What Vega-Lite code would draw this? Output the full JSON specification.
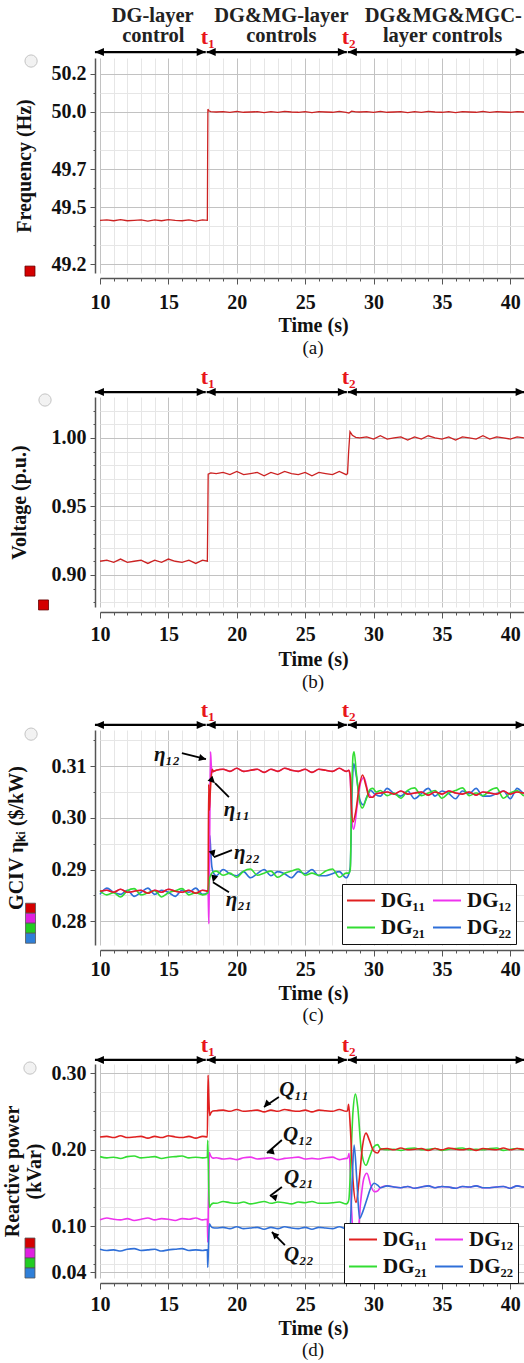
{
"$schema": "https://vega.github.io/schema/vega-lite/v6.json",
"background": "white",
"padding": {"left": 2, "right": 0, "top": 0, "bottom": 0},
"bounds": "flush",
"spacing": 0,
"config": {
  "view": {"stroke": null},
  "font": "Liberation Serif",
  "axis": {"labelFont": "Liberation Serif", "labelFontWeight": "bold", "labelFontSize": 20, "labelColor": "#111111", "titleFont": "Liberation Serif", "titleFontWeight": "bold", "titleFontSize": 20, "titleColor": "#111111", "domainColor": "#555555", "domainWidth": 1.5, "tickColor": "#555555", "gridWidth": 1, "labelOverlap": false, "labelFlush": false, "labelBound": false},
  "text": {"font": "Liberation Serif"}
},
"resolve": {"scale": {"color": "independent"}, "legend": {"color": "independent"}},
"datasets": {
  "arrows": [{"a": 9.63, "b": 17.73}, {"a": 17.8, "b": 28.05}, {"a": 28.12, "b": 41.05}],
  "hdrA": [{"row": "l1", "t": 13.85, "txt": "DG-layer"}, {"row": "l1", "t": 23.26, "txt": "DG&MG-layer"}, {"row": "l1", "t": 35.1, "txt": "DG&MG&MGC-"}, {"row": "l2", "t": 13.9, "txt": "control"}, {"row": "l2", "t": 23.26, "txt": "controls"}, {"row": "l2", "t": 35.05, "txt": "layer controls"}],
  "tags": [{"t": 17.88, "txt": "t₁"}, {"t": 28.18, "txt": "t₂"}],
  "freq": [
    {"t": 10, "v": 49.430}, {"t": 10.5, "v": 49.432}, {"t": 11, "v": 49.428}, {"t": 11.5, "v": 49.434}, {"t": 12, "v": 49.428}, {"t": 12.5, "v": 49.430}, {"t": 13, "v": 49.432}, {"t": 13.5, "v": 49.426}, {"t": 14, "v": 49.432}, {"t": 14.5, "v": 49.428}, {"t": 15, "v": 49.434}, {"t": 15.5, "v": 49.430}, {"t": 16, "v": 49.428}, {"t": 16.5, "v": 49.432}, {"t": 17, "v": 49.426}, {"t": 17.5, "v": 49.432}, {"t": 17.85, "v": 49.430},
    {"t": 17.87, "v": 49.75}, {"t": 17.89, "v": 50.015}, {"t": 17.95, "v": 50.006}, {"t": 18.1, "v": 50.002},
    {"t": 18.5, "v": 50.000}, {"t": 19, "v": 50.0015}, {"t": 19.5, "v": 49.9985}, {"t": 20, "v": 50.003}, {"t": 20.5, "v": 49.9985}, {"t": 21, "v": 50.000}, {"t": 21.5, "v": 50.0015}, {"t": 22, "v": 49.997}, {"t": 22.5, "v": 50.0015}, {"t": 23, "v": 49.9985}, {"t": 23.5, "v": 50.003}, {"t": 24, "v": 50.000}, {"t": 24.5, "v": 49.9985}, {"t": 25, "v": 50.0015}, {"t": 25.5, "v": 49.997}, {"t": 26, "v": 50.0015}, {"t": 26.5, "v": 50.000}, {"t": 27, "v": 49.9985}, {"t": 27.5, "v": 50.003}, {"t": 28, "v": 49.9985},
    {"t": 28.2, "v": 49.994}, {"t": 28.4, "v": 50.004}, {"t": 28.7, "v": 50.001},
    {"t": 29, "v": 50.000}, {"t": 29.5, "v": 50.0015}, {"t": 30, "v": 49.9985}, {"t": 30.5, "v": 50.003}, {"t": 31, "v": 49.9985}, {"t": 31.5, "v": 50.000}, {"t": 32, "v": 50.0015}, {"t": 32.5, "v": 49.997}, {"t": 33, "v": 50.0015}, {"t": 33.5, "v": 49.9985}, {"t": 34, "v": 50.003}, {"t": 34.5, "v": 50.000}, {"t": 35, "v": 49.9985}, {"t": 35.5, "v": 50.0015}, {"t": 36, "v": 49.997}, {"t": 36.5, "v": 50.0015}, {"t": 37, "v": 50.000}, {"t": 37.5, "v": 49.9985}, {"t": 38, "v": 50.003}, {"t": 38.5, "v": 49.9985}, {"t": 39, "v": 50.0015}, {"t": 39.5, "v": 50.000}, {"t": 40, "v": 49.9985}, {"t": 40.5, "v": 50.0015}, {"t": 41, "v": 50.000}, {"t": 41.15, "v": 50.000}
  ],
  "volt": [
    {"t": 10, "v": 0.9100}, {"t": 10.5, "v": 0.9108}, {"t": 11, "v": 0.9092}, {"t": 11.5, "v": 0.9116}, {"t": 12, "v": 0.9092}, {"t": 12.5, "v": 0.9100}, {"t": 13, "v": 0.9108}, {"t": 13.5, "v": 0.9084}, {"t": 14, "v": 0.9108}, {"t": 14.5, "v": 0.9092}, {"t": 15, "v": 0.9116}, {"t": 15.5, "v": 0.9100}, {"t": 16, "v": 0.9092}, {"t": 16.5, "v": 0.9108}, {"t": 17, "v": 0.9084}, {"t": 17.5, "v": 0.9108}, {"t": 17.85, "v": 0.9100},
    {"t": 17.88, "v": 0.9400}, {"t": 17.91, "v": 0.9735}, {"t": 18.1, "v": 0.9745},
    {"t": 18.5, "v": 0.9740}, {"t": 19, "v": 0.9748}, {"t": 19.5, "v": 0.9732}, {"t": 20, "v": 0.9756}, {"t": 20.5, "v": 0.9732}, {"t": 21, "v": 0.9740}, {"t": 21.5, "v": 0.9748}, {"t": 22, "v": 0.9724}, {"t": 22.5, "v": 0.9748}, {"t": 23, "v": 0.9732}, {"t": 23.5, "v": 0.9756}, {"t": 24, "v": 0.9740}, {"t": 24.5, "v": 0.9732}, {"t": 25, "v": 0.9748}, {"t": 25.5, "v": 0.9724}, {"t": 26, "v": 0.9748}, {"t": 26.5, "v": 0.9740}, {"t": 27, "v": 0.9732}, {"t": 27.5, "v": 0.9756}, {"t": 28, "v": 0.9732},
    {"t": 28.1, "v": 0.9740}, {"t": 28.18, "v": 0.9900}, {"t": 28.28, "v": 1.0045}, {"t": 28.45, "v": 1.0020}, {"t": 28.7, "v": 1.0005},
    {"t": 29, "v": 1.0000}, {"t": 29.5, "v": 1.0008}, {"t": 30, "v": 0.9992}, {"t": 30.5, "v": 1.0016}, {"t": 31, "v": 0.9992}, {"t": 31.5, "v": 1.0000}, {"t": 32, "v": 1.0008}, {"t": 32.5, "v": 0.9984}, {"t": 33, "v": 1.0008}, {"t": 33.5, "v": 0.9992}, {"t": 34, "v": 1.0016}, {"t": 34.5, "v": 1.0000}, {"t": 35, "v": 0.9992}, {"t": 35.5, "v": 1.0008}, {"t": 36, "v": 0.9984}, {"t": 36.5, "v": 1.0008}, {"t": 37, "v": 1.0000}, {"t": 37.5, "v": 0.9992}, {"t": 38, "v": 1.0016}, {"t": 38.5, "v": 0.9992}, {"t": 39, "v": 1.0008}, {"t": 39.5, "v": 1.0000}, {"t": 40, "v": 0.9992}, {"t": 40.5, "v": 1.0008}, {"t": 41, "v": 1.0000}, {"t": 41.15, "v": 1.0004}
  ],
  "gciv": [
    {"s": "DG22", "t": 10, "v": 0.2852}, {"s": "DG22", "t": 10.5, "v": 0.2864}, {"s": "DG22", "t": 11, "v": 0.2856}, {"s": "DG22", "t": 11.5, "v": 0.2852}, {"s": "DG22", "t": 12, "v": 0.2860}, {"s": "DG22", "t": 12.5, "v": 0.2848}, {"s": "DG22", "t": 13, "v": 0.2856}, {"s": "DG22", "t": 13.5, "v": 0.2864}, {"s": "DG22", "t": 14, "v": 0.2852}, {"s": "DG22", "t": 14.5, "v": 0.2860}, {"s": "DG22", "t": 15, "v": 0.2856}, {"s": "DG22", "t": 15.5, "v": 0.2848}, {"s": "DG22", "t": 16, "v": 0.2860}, {"s": "DG22", "t": 16.5, "v": 0.2856}, {"s": "DG22", "t": 17, "v": 0.2864}, {"s": "DG22", "t": 17.5, "v": 0.2852},
    {"s": "DG22", "t": 17.9, "v": 0.2856}, {"s": "DG22", "t": 17.97, "v": 0.2885}, {"s": "DG22", "t": 18.03, "v": 0.2966}, {"s": "DG22", "t": 18.1, "v": 0.2935}, {"s": "DG22", "t": 18.18, "v": 0.2905}, {"s": "DG22", "t": 18.3, "v": 0.2893},
    {"s": "DG22", "t": 18.5, "v": 0.2888}, {"s": "DG22", "t": 19, "v": 0.2900}, {"s": "DG22", "t": 19.5, "v": 0.2892}, {"s": "DG22", "t": 20, "v": 0.2888}, {"s": "DG22", "t": 20.5, "v": 0.2896}, {"s": "DG22", "t": 21, "v": 0.2884}, {"s": "DG22", "t": 21.5, "v": 0.2892}, {"s": "DG22", "t": 22, "v": 0.2900}, {"s": "DG22", "t": 22.5, "v": 0.2888}, {"s": "DG22", "t": 23, "v": 0.2896}, {"s": "DG22", "t": 23.5, "v": 0.2892}, {"s": "DG22", "t": 24, "v": 0.2884}, {"s": "DG22", "t": 24.5, "v": 0.2896}, {"s": "DG22", "t": 25, "v": 0.2892}, {"s": "DG22", "t": 25.5, "v": 0.2900}, {"s": "DG22", "t": 26, "v": 0.2888}, {"s": "DG22", "t": 26.5, "v": 0.2888}, {"s": "DG22", "t": 27, "v": 0.2892}, {"s": "DG22", "t": 27.5, "v": 0.2896}, {"s": "DG22", "t": 28, "v": 0.2884},
    {"s": "DG22", "t": 28.2, "v": 0.2892}, {"s": "DG22", "t": 28.3, "v": 0.2905}, {"s": "DG22", "t": 28.42, "v": 0.3040}, {"s": "DG22", "t": 28.55, "v": 0.3105}, {"s": "DG22", "t": 28.75, "v": 0.3080}, {"s": "DG22", "t": 29.0, "v": 0.3035}, {"s": "DG22", "t": 29.25, "v": 0.3025}, {"s": "DG22", "t": 29.5, "v": 0.3040}, {"s": "DG22", "t": 29.8, "v": 0.3053}, {"s": "DG22", "t": 30.1, "v": 0.3046},
    {"s": "DG22", "t": 30.5, "v": 0.3042}, {"s": "DG22", "t": 31, "v": 0.3057}, {"s": "DG22", "t": 31.5, "v": 0.3047}, {"s": "DG22", "t": 32, "v": 0.3042}, {"s": "DG22", "t": 32.5, "v": 0.3052}, {"s": "DG22", "t": 33, "v": 0.3037}, {"s": "DG22", "t": 33.5, "v": 0.3047}, {"s": "DG22", "t": 34, "v": 0.3057}, {"s": "DG22", "t": 34.5, "v": 0.3042}, {"s": "DG22", "t": 35, "v": 0.3052}, {"s": "DG22", "t": 35.5, "v": 0.3047}, {"s": "DG22", "t": 36, "v": 0.3037}, {"s": "DG22", "t": 36.5, "v": 0.3052}, {"s": "DG22", "t": 37, "v": 0.3047}, {"s": "DG22", "t": 37.5, "v": 0.3057}, {"s": "DG22", "t": 38, "v": 0.3042}, {"s": "DG22", "t": 38.5, "v": 0.3042}, {"s": "DG22", "t": 39, "v": 0.3047}, {"s": "DG22", "t": 39.5, "v": 0.3052}, {"s": "DG22", "t": 40, "v": 0.3037}, {"s": "DG22", "t": 40.5, "v": 0.3057}, {"s": "DG22", "t": 41, "v": 0.3047}, {"s": "DG22", "t": 41.15, "v": 0.3045},
    {"s": "DG12", "t": 10, "v": 0.2858}, {"s": "DG12", "t": 10.5, "v": 0.2860}, {"s": "DG12", "t": 11, "v": 0.2856}, {"s": "DG12", "t": 11.5, "v": 0.2862}, {"s": "DG12", "t": 12, "v": 0.2856}, {"s": "DG12", "t": 12.5, "v": 0.2858}, {"s": "DG12", "t": 13, "v": 0.2860}, {"s": "DG12", "t": 13.5, "v": 0.2854}, {"s": "DG12", "t": 14, "v": 0.2860}, {"s": "DG12", "t": 14.5, "v": 0.2856}, {"s": "DG12", "t": 15, "v": 0.2862}, {"s": "DG12", "t": 15.5, "v": 0.2858}, {"s": "DG12", "t": 16, "v": 0.2856}, {"s": "DG12", "t": 16.5, "v": 0.2860}, {"s": "DG12", "t": 17, "v": 0.2854}, {"s": "DG12", "t": 17.5, "v": 0.2860},
    {"s": "DG12", "t": 17.9, "v": 0.2858}, {"s": "DG12", "t": 17.96, "v": 0.2795}, {"s": "DG12", "t": 18.02, "v": 0.2960}, {"s": "DG12", "t": 18.08, "v": 0.3128}, {"s": "DG12", "t": 18.14, "v": 0.3100}, {"s": "DG12", "t": 18.22, "v": 0.3088}, {"s": "DG12", "t": 18.3, "v": 0.3090},
    {"s": "DG12", "t": 18.5, "v": 0.3092}, {"s": "DG12", "t": 19, "v": 0.3094}, {"s": "DG12", "t": 19.5, "v": 0.3090}, {"s": "DG12", "t": 20, "v": 0.3096}, {"s": "DG12", "t": 20.5, "v": 0.3090}, {"s": "DG12", "t": 21, "v": 0.3092}, {"s": "DG12", "t": 21.5, "v": 0.3094}, {"s": "DG12", "t": 22, "v": 0.3088}, {"s": "DG12", "t": 22.5, "v": 0.3094}, {"s": "DG12", "t": 23, "v": 0.3090}, {"s": "DG12", "t": 23.5, "v": 0.3096}, {"s": "DG12", "t": 24, "v": 0.3092}, {"s": "DG12", "t": 24.5, "v": 0.3090}, {"s": "DG12", "t": 25, "v": 0.3094}, {"s": "DG12", "t": 25.5, "v": 0.3088}, {"s": "DG12", "t": 26, "v": 0.3094}, {"s": "DG12", "t": 26.5, "v": 0.3092}, {"s": "DG12", "t": 27, "v": 0.3090}, {"s": "DG12", "t": 27.5, "v": 0.3096}, {"s": "DG12", "t": 28, "v": 0.3090},
    {"s": "DG12", "t": 28.2, "v": 0.3092}, {"s": "DG12", "t": 28.3, "v": 0.3075}, {"s": "DG12", "t": 28.42, "v": 0.2995}, {"s": "DG12", "t": 28.55, "v": 0.2978}, {"s": "DG12", "t": 28.8, "v": 0.3022}, {"s": "DG12", "t": 29.05, "v": 0.3068}, {"s": "DG12", "t": 29.3, "v": 0.3078}, {"s": "DG12", "t": 29.6, "v": 0.3050}, {"s": "DG12", "t": 29.9, "v": 0.3040}, {"s": "DG12", "t": 30.2, "v": 0.3047},
    {"s": "DG12", "t": 30.5, "v": 0.3048}, {"s": "DG12", "t": 31, "v": 0.3050}, {"s": "DG12", "t": 31.5, "v": 0.3046}, {"s": "DG12", "t": 32, "v": 0.3052}, {"s": "DG12", "t": 32.5, "v": 0.3046}, {"s": "DG12", "t": 33, "v": 0.3048}, {"s": "DG12", "t": 33.5, "v": 0.3050}, {"s": "DG12", "t": 34, "v": 0.3044}, {"s": "DG12", "t": 34.5, "v": 0.3050}, {"s": "DG12", "t": 35, "v": 0.3046}, {"s": "DG12", "t": 35.5, "v": 0.3052}, {"s": "DG12", "t": 36, "v": 0.3048}, {"s": "DG12", "t": 36.5, "v": 0.3046}, {"s": "DG12", "t": 37, "v": 0.3050}, {"s": "DG12", "t": 37.5, "v": 0.3044}, {"s": "DG12", "t": 38, "v": 0.3050}, {"s": "DG12", "t": 38.5, "v": 0.3048}, {"s": "DG12", "t": 39, "v": 0.3046}, {"s": "DG12", "t": 39.5, "v": 0.3052}, {"s": "DG12", "t": 40, "v": 0.3046}, {"s": "DG12", "t": 40.5, "v": 0.3050}, {"s": "DG12", "t": 41, "v": 0.3048}, {"s": "DG12", "t": 41.15, "v": 0.3048},
    {"s": "DG21", "t": 10, "v": 0.2859}, {"s": "DG21", "t": 10.5, "v": 0.2851}, {"s": "DG21", "t": 11, "v": 0.2855}, {"s": "DG21", "t": 11.5, "v": 0.2847}, {"s": "DG21", "t": 12, "v": 0.2859}, {"s": "DG21", "t": 12.5, "v": 0.2863}, {"s": "DG21", "t": 13, "v": 0.2851}, {"s": "DG21", "t": 13.5, "v": 0.2855}, {"s": "DG21", "t": 14, "v": 0.2859}, {"s": "DG21", "t": 14.5, "v": 0.2847}, {"s": "DG21", "t": 15, "v": 0.2855}, {"s": "DG21", "t": 15.5, "v": 0.2859}, {"s": "DG21", "t": 16, "v": 0.2863}, {"s": "DG21", "t": 16.5, "v": 0.2851}, {"s": "DG21", "t": 17, "v": 0.2855}, {"s": "DG21", "t": 17.5, "v": 0.2851},
    {"s": "DG21", "t": 17.9, "v": 0.2855}, {"s": "DG21", "t": 17.98, "v": 0.2878}, {"s": "DG21", "t": 18.1, "v": 0.2890}, {"s": "DG21", "t": 18.25, "v": 0.2895},
    {"s": "DG21", "t": 18.5, "v": 0.2897}, {"s": "DG21", "t": 19, "v": 0.2889}, {"s": "DG21", "t": 19.5, "v": 0.2893}, {"s": "DG21", "t": 20, "v": 0.2885}, {"s": "DG21", "t": 20.5, "v": 0.2897}, {"s": "DG21", "t": 21, "v": 0.2901}, {"s": "DG21", "t": 21.5, "v": 0.2889}, {"s": "DG21", "t": 22, "v": 0.2893}, {"s": "DG21", "t": 22.5, "v": 0.2897}, {"s": "DG21", "t": 23, "v": 0.2885}, {"s": "DG21", "t": 23.5, "v": 0.2893}, {"s": "DG21", "t": 24, "v": 0.2897}, {"s": "DG21", "t": 24.5, "v": 0.2901}, {"s": "DG21", "t": 25, "v": 0.2889}, {"s": "DG21", "t": 25.5, "v": 0.2893}, {"s": "DG21", "t": 26, "v": 0.2889}, {"s": "DG21", "t": 26.5, "v": 0.2897}, {"s": "DG21", "t": 27, "v": 0.2901}, {"s": "DG21", "t": 27.5, "v": 0.2885}, {"s": "DG21", "t": 28, "v": 0.2893},
    {"s": "DG21", "t": 28.2, "v": 0.2893}, {"s": "DG21", "t": 28.3, "v": 0.2900}, {"s": "DG21", "t": 28.4, "v": 0.3040}, {"s": "DG21", "t": 28.5, "v": 0.3120}, {"s": "DG21", "t": 28.58, "v": 0.3128}, {"s": "DG21", "t": 28.75, "v": 0.3085}, {"s": "DG21", "t": 29.0, "v": 0.3030}, {"s": "DG21", "t": 29.18, "v": 0.3019}, {"s": "DG21", "t": 29.45, "v": 0.3035}, {"s": "DG21", "t": 29.75, "v": 0.3055}, {"s": "DG21", "t": 29.95, "v": 0.3057}, {"s": "DG21", "t": 30.2, "v": 0.3050},
    {"s": "DG21", "t": 30.5, "v": 0.3053}, {"s": "DG21", "t": 31, "v": 0.3043}, {"s": "DG21", "t": 31.5, "v": 0.3048}, {"s": "DG21", "t": 32, "v": 0.3038}, {"s": "DG21", "t": 32.5, "v": 0.3053}, {"s": "DG21", "t": 33, "v": 0.3058}, {"s": "DG21", "t": 33.5, "v": 0.3043}, {"s": "DG21", "t": 34, "v": 0.3048}, {"s": "DG21", "t": 34.5, "v": 0.3053}, {"s": "DG21", "t": 35, "v": 0.3038}, {"s": "DG21", "t": 35.5, "v": 0.3048}, {"s": "DG21", "t": 36, "v": 0.3053}, {"s": "DG21", "t": 36.5, "v": 0.3058}, {"s": "DG21", "t": 37, "v": 0.3043}, {"s": "DG21", "t": 37.5, "v": 0.3048}, {"s": "DG21", "t": 38, "v": 0.3043}, {"s": "DG21", "t": 38.5, "v": 0.3053}, {"s": "DG21", "t": 39, "v": 0.3058}, {"s": "DG21", "t": 39.5, "v": 0.3038}, {"s": "DG21", "t": 40, "v": 0.3048}, {"s": "DG21", "t": 40.5, "v": 0.3053}, {"s": "DG21", "t": 41, "v": 0.3043}, {"s": "DG21", "t": 41.15, "v": 0.3048},
    {"s": "DG11", "t": 10, "v": 0.2858}, {"s": "DG11", "t": 10.5, "v": 0.2860}, {"s": "DG11", "t": 11, "v": 0.2856}, {"s": "DG11", "t": 11.5, "v": 0.2862}, {"s": "DG11", "t": 12, "v": 0.2856}, {"s": "DG11", "t": 12.5, "v": 0.2858}, {"s": "DG11", "t": 13, "v": 0.2860}, {"s": "DG11", "t": 13.5, "v": 0.2854}, {"s": "DG11", "t": 14, "v": 0.2860}, {"s": "DG11", "t": 14.5, "v": 0.2856}, {"s": "DG11", "t": 15, "v": 0.2862}, {"s": "DG11", "t": 15.5, "v": 0.2858}, {"s": "DG11", "t": 16, "v": 0.2856}, {"s": "DG11", "t": 16.5, "v": 0.2860}, {"s": "DG11", "t": 17, "v": 0.2854}, {"s": "DG11", "t": 17.5, "v": 0.2860},
    {"s": "DG11", "t": 17.9, "v": 0.2858}, {"s": "DG11", "t": 17.95, "v": 0.3065}, {"s": "DG11", "t": 18.0, "v": 0.3015}, {"s": "DG11", "t": 18.06, "v": 0.3048}, {"s": "DG11", "t": 18.12, "v": 0.3075}, {"s": "DG11", "t": 18.2, "v": 0.3094}, {"s": "DG11", "t": 18.3, "v": 0.3090},
    {"s": "DG11", "t": 18.5, "v": 0.3092}, {"s": "DG11", "t": 19, "v": 0.3094}, {"s": "DG11", "t": 19.5, "v": 0.3090}, {"s": "DG11", "t": 20, "v": 0.3096}, {"s": "DG11", "t": 20.5, "v": 0.3090}, {"s": "DG11", "t": 21, "v": 0.3092}, {"s": "DG11", "t": 21.5, "v": 0.3094}, {"s": "DG11", "t": 22, "v": 0.3088}, {"s": "DG11", "t": 22.5, "v": 0.3094}, {"s": "DG11", "t": 23, "v": 0.3090}, {"s": "DG11", "t": 23.5, "v": 0.3096}, {"s": "DG11", "t": 24, "v": 0.3092}, {"s": "DG11", "t": 24.5, "v": 0.3090}, {"s": "DG11", "t": 25, "v": 0.3094}, {"s": "DG11", "t": 25.5, "v": 0.3088}, {"s": "DG11", "t": 26, "v": 0.3094}, {"s": "DG11", "t": 26.5, "v": 0.3092}, {"s": "DG11", "t": 27, "v": 0.3090}, {"s": "DG11", "t": 27.5, "v": 0.3096}, {"s": "DG11", "t": 28, "v": 0.3090},
    {"s": "DG11", "t": 28.2, "v": 0.3092}, {"s": "DG11", "t": 28.3, "v": 0.3080}, {"s": "DG11", "t": 28.38, "v": 0.3025}, {"s": "DG11", "t": 28.5, "v": 0.2992}, {"s": "DG11", "t": 28.7, "v": 0.3012}, {"s": "DG11", "t": 28.95, "v": 0.3060}, {"s": "DG11", "t": 29.2, "v": 0.3083}, {"s": "DG11", "t": 29.45, "v": 0.3062}, {"s": "DG11", "t": 29.7, "v": 0.3040}, {"s": "DG11", "t": 29.95, "v": 0.3040}, {"s": "DG11", "t": 30.2, "v": 0.3047},
    {"s": "DG11", "t": 30.5, "v": 0.3048}, {"s": "DG11", "t": 31, "v": 0.3050}, {"s": "DG11", "t": 31.5, "v": 0.3046}, {"s": "DG11", "t": 32, "v": 0.3052}, {"s": "DG11", "t": 32.5, "v": 0.3046}, {"s": "DG11", "t": 33, "v": 0.3048}, {"s": "DG11", "t": 33.5, "v": 0.3050}, {"s": "DG11", "t": 34, "v": 0.3044}, {"s": "DG11", "t": 34.5, "v": 0.3050}, {"s": "DG11", "t": 35, "v": 0.3046}, {"s": "DG11", "t": 35.5, "v": 0.3052}, {"s": "DG11", "t": 36, "v": 0.3048}, {"s": "DG11", "t": 36.5, "v": 0.3046}, {"s": "DG11", "t": 37, "v": 0.3050}, {"s": "DG11", "t": 37.5, "v": 0.3044}, {"s": "DG11", "t": 38, "v": 0.3050}, {"s": "DG11", "t": 38.5, "v": 0.3048}, {"s": "DG11", "t": 39, "v": 0.3046}, {"s": "DG11", "t": 39.5, "v": 0.3052}, {"s": "DG11", "t": 40, "v": 0.3046}, {"s": "DG11", "t": 40.5, "v": 0.3050}, {"s": "DG11", "t": 41, "v": 0.3048}, {"s": "DG11", "t": 41.15, "v": 0.3048}
  ],
  "rq": [
    {"s": "DG12", "t": 10, "v": 0.1082}, {"s": "DG12", "t": 10.5, "v": 0.1106}, {"s": "DG12", "t": 11, "v": 0.1090}, {"s": "DG12", "t": 11.5, "v": 0.1082}, {"s": "DG12", "t": 12, "v": 0.1098}, {"s": "DG12", "t": 12.5, "v": 0.1074}, {"s": "DG12", "t": 13, "v": 0.1090}, {"s": "DG12", "t": 13.5, "v": 0.1106}, {"s": "DG12", "t": 14, "v": 0.1082}, {"s": "DG12", "t": 14.5, "v": 0.1098}, {"s": "DG12", "t": 15, "v": 0.1090}, {"s": "DG12", "t": 15.5, "v": 0.1074}, {"s": "DG12", "t": 16, "v": 0.1098}, {"s": "DG12", "t": 16.5, "v": 0.1090}, {"s": "DG12", "t": 17, "v": 0.1106}, {"s": "DG12", "t": 17.5, "v": 0.1082},
    {"s": "DG12", "t": 17.85, "v": 0.1090}, {"s": "DG12", "t": 17.88, "v": 0.0790}, {"s": "DG12", "t": 17.93, "v": 0.1400}, {"s": "DG12", "t": 17.99, "v": 0.1960}, {"s": "DG12", "t": 18.08, "v": 0.1920}, {"s": "DG12", "t": 18.25, "v": 0.1888},
    {"s": "DG12", "t": 18.5, "v": 0.1893}, {"s": "DG12", "t": 19, "v": 0.1877}, {"s": "DG12", "t": 19.5, "v": 0.1885}, {"s": "DG12", "t": 20, "v": 0.1869}, {"s": "DG12", "t": 20.5, "v": 0.1893}, {"s": "DG12", "t": 21, "v": 0.1901}, {"s": "DG12", "t": 21.5, "v": 0.1877}, {"s": "DG12", "t": 22, "v": 0.1885}, {"s": "DG12", "t": 22.5, "v": 0.1893}, {"s": "DG12", "t": 23, "v": 0.1869}, {"s": "DG12", "t": 23.5, "v": 0.1885}, {"s": "DG12", "t": 24, "v": 0.1893}, {"s": "DG12", "t": 24.5, "v": 0.1901}, {"s": "DG12", "t": 25, "v": 0.1877}, {"s": "DG12", "t": 25.5, "v": 0.1885}, {"s": "DG12", "t": 26, "v": 0.1877}, {"s": "DG12", "t": 26.5, "v": 0.1893}, {"s": "DG12", "t": 27, "v": 0.1901}, {"s": "DG12", "t": 27.5, "v": 0.1869}, {"s": "DG12", "t": 28, "v": 0.1885},
    {"s": "DG12", "t": 28.1, "v": 0.1885}, {"s": "DG12", "t": 28.22, "v": 0.1950}, {"s": "DG12", "t": 28.4, "v": 0.1200}, {"s": "DG12", "t": 28.6, "v": 0.0700}, {"s": "DG12", "t": 28.8, "v": 0.0750}, {"s": "DG12", "t": 29.05, "v": 0.1300}, {"s": "DG12", "t": 29.3, "v": 0.1630}, {"s": "DG12", "t": 29.52, "v": 0.1690}, {"s": "DG12", "t": 29.8, "v": 0.1530}, {"s": "DG12", "t": 30.05, "v": 0.1450}, {"s": "DG12", "t": 30.3, "v": 0.1460},
    {"s": "DG12", "t": 30.5, "v": 0.1502}, {"s": "DG12", "t": 31, "v": 0.1526}, {"s": "DG12", "t": 31.5, "v": 0.1510}, {"s": "DG12", "t": 32, "v": 0.1502}, {"s": "DG12", "t": 32.5, "v": 0.1518}, {"s": "DG12", "t": 33, "v": 0.1494}, {"s": "DG12", "t": 33.5, "v": 0.1510}, {"s": "DG12", "t": 34, "v": 0.1526}, {"s": "DG12", "t": 34.5, "v": 0.1502}, {"s": "DG12", "t": 35, "v": 0.1518}, {"s": "DG12", "t": 35.5, "v": 0.1510}, {"s": "DG12", "t": 36, "v": 0.1494}, {"s": "DG12", "t": 36.5, "v": 0.1518}, {"s": "DG12", "t": 37, "v": 0.1510}, {"s": "DG12", "t": 37.5, "v": 0.1526}, {"s": "DG12", "t": 38, "v": 0.1502}, {"s": "DG12", "t": 38.5, "v": 0.1502}, {"s": "DG12", "t": 39, "v": 0.1510}, {"s": "DG12", "t": 39.5, "v": 0.1518}, {"s": "DG12", "t": 40, "v": 0.1494}, {"s": "DG12", "t": 40.5, "v": 0.1526}, {"s": "DG12", "t": 41, "v": 0.1510}, {"s": "DG12", "t": 41.15, "v": 0.1510},
    {"s": "DG21", "t": 10, "v": 0.1908}, {"s": "DG21", "t": 10.5, "v": 0.1892}, {"s": "DG21", "t": 11, "v": 0.1900}, {"s": "DG21", "t": 11.5, "v": 0.1884}, {"s": "DG21", "t": 12, "v": 0.1908}, {"s": "DG21", "t": 12.5, "v": 0.1916}, {"s": "DG21", "t": 13, "v": 0.1892}, {"s": "DG21", "t": 13.5, "v": 0.1900}, {"s": "DG21", "t": 14, "v": 0.1908}, {"s": "DG21", "t": 14.5, "v": 0.1884}, {"s": "DG21", "t": 15, "v": 0.1900}, {"s": "DG21", "t": 15.5, "v": 0.1908}, {"s": "DG21", "t": 16, "v": 0.1916}, {"s": "DG21", "t": 16.5, "v": 0.1892}, {"s": "DG21", "t": 17, "v": 0.1900}, {"s": "DG21", "t": 17.5, "v": 0.1892},
    {"s": "DG21", "t": 17.85, "v": 0.1900}, {"s": "DG21", "t": 17.88, "v": 0.2120}, {"s": "DG21", "t": 17.94, "v": 0.1600}, {"s": "DG21", "t": 18.0, "v": 0.1245}, {"s": "DG21", "t": 18.1, "v": 0.1275}, {"s": "DG21", "t": 18.3, "v": 0.1300},
    {"s": "DG21", "t": 18.5, "v": 0.1298}, {"s": "DG21", "t": 19, "v": 0.1322}, {"s": "DG21", "t": 19.5, "v": 0.1306}, {"s": "DG21", "t": 20, "v": 0.1298}, {"s": "DG21", "t": 20.5, "v": 0.1314}, {"s": "DG21", "t": 21, "v": 0.1290}, {"s": "DG21", "t": 21.5, "v": 0.1306}, {"s": "DG21", "t": 22, "v": 0.1322}, {"s": "DG21", "t": 22.5, "v": 0.1298}, {"s": "DG21", "t": 23, "v": 0.1314}, {"s": "DG21", "t": 23.5, "v": 0.1306}, {"s": "DG21", "t": 24, "v": 0.1290}, {"s": "DG21", "t": 24.5, "v": 0.1314}, {"s": "DG21", "t": 25, "v": 0.1306}, {"s": "DG21", "t": 25.5, "v": 0.1322}, {"s": "DG21", "t": 26, "v": 0.1298}, {"s": "DG21", "t": 26.5, "v": 0.1298}, {"s": "DG21", "t": 27, "v": 0.1306}, {"s": "DG21", "t": 27.5, "v": 0.1314}, {"s": "DG21", "t": 28, "v": 0.1290},
    {"s": "DG21", "t": 28.1, "v": 0.1300}, {"s": "DG21", "t": 28.2, "v": 0.1350}, {"s": "DG21", "t": 28.35, "v": 0.1900}, {"s": "DG21", "t": 28.5, "v": 0.2500}, {"s": "DG21", "t": 28.68, "v": 0.2725}, {"s": "DG21", "t": 28.85, "v": 0.2550}, {"s": "DG21", "t": 29.1, "v": 0.2000}, {"s": "DG21", "t": 29.45, "v": 0.1795}, {"s": "DG21", "t": 29.7, "v": 0.1900}, {"s": "DG21", "t": 30.0, "v": 0.2030}, {"s": "DG21", "t": 30.3, "v": 0.2065},
    {"s": "DG21", "t": 30.5, "v": 0.2013}, {"s": "DG21", "t": 31, "v": 0.1997}, {"s": "DG21", "t": 31.5, "v": 0.2005}, {"s": "DG21", "t": 32, "v": 0.1989}, {"s": "DG21", "t": 32.5, "v": 0.2013}, {"s": "DG21", "t": 33, "v": 0.2021}, {"s": "DG21", "t": 33.5, "v": 0.1997}, {"s": "DG21", "t": 34, "v": 0.2005}, {"s": "DG21", "t": 34.5, "v": 0.2013}, {"s": "DG21", "t": 35, "v": 0.1989}, {"s": "DG21", "t": 35.5, "v": 0.2005}, {"s": "DG21", "t": 36, "v": 0.2013}, {"s": "DG21", "t": 36.5, "v": 0.2021}, {"s": "DG21", "t": 37, "v": 0.1997}, {"s": "DG21", "t": 37.5, "v": 0.2005}, {"s": "DG21", "t": 38, "v": 0.1997}, {"s": "DG21", "t": 38.5, "v": 0.2013}, {"s": "DG21", "t": 39, "v": 0.2021}, {"s": "DG21", "t": 39.5, "v": 0.1989}, {"s": "DG21", "t": 40, "v": 0.2005}, {"s": "DG21", "t": 40.5, "v": 0.2013}, {"s": "DG21", "t": 41, "v": 0.1997}, {"s": "DG21", "t": 41.15, "v": 0.2005},
    {"s": "DG11", "t": 10, "v": 0.2165}, {"s": "DG11", "t": 10.5, "v": 0.2173}, {"s": "DG11", "t": 11, "v": 0.2157}, {"s": "DG11", "t": 11.5, "v": 0.2181}, {"s": "DG11", "t": 12, "v": 0.2157}, {"s": "DG11", "t": 12.5, "v": 0.2165}, {"s": "DG11", "t": 13, "v": 0.2173}, {"s": "DG11", "t": 13.5, "v": 0.2149}, {"s": "DG11", "t": 14, "v": 0.2173}, {"s": "DG11", "t": 14.5, "v": 0.2157}, {"s": "DG11", "t": 15, "v": 0.2181}, {"s": "DG11", "t": 15.5, "v": 0.2165}, {"s": "DG11", "t": 16, "v": 0.2157}, {"s": "DG11", "t": 16.5, "v": 0.2173}, {"s": "DG11", "t": 17, "v": 0.2149}, {"s": "DG11", "t": 17.5, "v": 0.2173},
    {"s": "DG11", "t": 17.85, "v": 0.2165}, {"s": "DG11", "t": 17.9, "v": 0.2975}, {"s": "DG11", "t": 17.96, "v": 0.2650}, {"s": "DG11", "t": 18.02, "v": 0.2445}, {"s": "DG11", "t": 18.1, "v": 0.2475}, {"s": "DG11", "t": 18.25, "v": 0.2505},
    {"s": "DG11", "t": 18.5, "v": 0.2508}, {"s": "DG11", "t": 19, "v": 0.2516}, {"s": "DG11", "t": 19.5, "v": 0.2500}, {"s": "DG11", "t": 20, "v": 0.2524}, {"s": "DG11", "t": 20.5, "v": 0.2500}, {"s": "DG11", "t": 21, "v": 0.2508}, {"s": "DG11", "t": 21.5, "v": 0.2516}, {"s": "DG11", "t": 22, "v": 0.2492}, {"s": "DG11", "t": 22.5, "v": 0.2516}, {"s": "DG11", "t": 23, "v": 0.2500}, {"s": "DG11", "t": 23.5, "v": 0.2524}, {"s": "DG11", "t": 24, "v": 0.2508}, {"s": "DG11", "t": 24.5, "v": 0.2500}, {"s": "DG11", "t": 25, "v": 0.2516}, {"s": "DG11", "t": 25.5, "v": 0.2492}, {"s": "DG11", "t": 26, "v": 0.2516}, {"s": "DG11", "t": 26.5, "v": 0.2508}, {"s": "DG11", "t": 27, "v": 0.2500}, {"s": "DG11", "t": 27.5, "v": 0.2524}, {"s": "DG11", "t": 28, "v": 0.2500},
    {"s": "DG11", "t": 28.1, "v": 0.2505}, {"s": "DG11", "t": 28.18, "v": 0.2590}, {"s": "DG11", "t": 28.3, "v": 0.2300}, {"s": "DG11", "t": 28.5, "v": 0.1600}, {"s": "DG11", "t": 28.72, "v": 0.1310}, {"s": "DG11", "t": 28.95, "v": 0.1600}, {"s": "DG11", "t": 29.2, "v": 0.2050}, {"s": "DG11", "t": 29.45, "v": 0.2215}, {"s": "DG11", "t": 29.7, "v": 0.2120}, {"s": "DG11", "t": 30.0, "v": 0.1985}, {"s": "DG11", "t": 30.3, "v": 0.1955},
    {"s": "DG11", "t": 30.5, "v": 0.2005}, {"s": "DG11", "t": 31, "v": 0.2013}, {"s": "DG11", "t": 31.5, "v": 0.1997}, {"s": "DG11", "t": 32, "v": 0.2021}, {"s": "DG11", "t": 32.5, "v": 0.1997}, {"s": "DG11", "t": 33, "v": 0.2005}, {"s": "DG11", "t": 33.5, "v": 0.2013}, {"s": "DG11", "t": 34, "v": 0.1989}, {"s": "DG11", "t": 34.5, "v": 0.2013}, {"s": "DG11", "t": 35, "v": 0.1997}, {"s": "DG11", "t": 35.5, "v": 0.2021}, {"s": "DG11", "t": 36, "v": 0.2005}, {"s": "DG11", "t": 36.5, "v": 0.1997}, {"s": "DG11", "t": 37, "v": 0.2013}, {"s": "DG11", "t": 37.5, "v": 0.1989}, {"s": "DG11", "t": 38, "v": 0.2013}, {"s": "DG11", "t": 38.5, "v": 0.2005}, {"s": "DG11", "t": 39, "v": 0.1997}, {"s": "DG11", "t": 39.5, "v": 0.2021}, {"s": "DG11", "t": 40, "v": 0.1997}, {"s": "DG11", "t": 40.5, "v": 0.2013}, {"s": "DG11", "t": 41, "v": 0.2005}, {"s": "DG11", "t": 41.15, "v": 0.2005},
    {"s": "DG22", "t": 10, "v": 0.0698}, {"s": "DG22", "t": 10.5, "v": 0.0682}, {"s": "DG22", "t": 11, "v": 0.0690}, {"s": "DG22", "t": 11.5, "v": 0.0674}, {"s": "DG22", "t": 12, "v": 0.0698}, {"s": "DG22", "t": 12.5, "v": 0.0706}, {"s": "DG22", "t": 13, "v": 0.0682}, {"s": "DG22", "t": 13.5, "v": 0.0690}, {"s": "DG22", "t": 14, "v": 0.0698}, {"s": "DG22", "t": 14.5, "v": 0.0674}, {"s": "DG22", "t": 15, "v": 0.0690}, {"s": "DG22", "t": 15.5, "v": 0.0698}, {"s": "DG22", "t": 16, "v": 0.0706}, {"s": "DG22", "t": 16.5, "v": 0.0682}, {"s": "DG22", "t": 17, "v": 0.0690}, {"s": "DG22", "t": 17.5, "v": 0.0682},
    {"s": "DG22", "t": 17.85, "v": 0.0690}, {"s": "DG22", "t": 17.88, "v": 0.0460}, {"s": "DG22", "t": 17.94, "v": 0.0780}, {"s": "DG22", "t": 18.0, "v": 0.1030}, {"s": "DG22", "t": 18.1, "v": 0.1000}, {"s": "DG22", "t": 18.25, "v": 0.0978},
    {"s": "DG22", "t": 18.5, "v": 0.0975}, {"s": "DG22", "t": 19, "v": 0.0983}, {"s": "DG22", "t": 19.5, "v": 0.0967}, {"s": "DG22", "t": 20, "v": 0.0991}, {"s": "DG22", "t": 20.5, "v": 0.0967}, {"s": "DG22", "t": 21, "v": 0.0975}, {"s": "DG22", "t": 21.5, "v": 0.0983}, {"s": "DG22", "t": 22, "v": 0.0959}, {"s": "DG22", "t": 22.5, "v": 0.0983}, {"s": "DG22", "t": 23, "v": 0.0967}, {"s": "DG22", "t": 23.5, "v": 0.0991}, {"s": "DG22", "t": 24, "v": 0.0975}, {"s": "DG22", "t": 24.5, "v": 0.0967}, {"s": "DG22", "t": 25, "v": 0.0983}, {"s": "DG22", "t": 25.5, "v": 0.0959}, {"s": "DG22", "t": 26, "v": 0.0983}, {"s": "DG22", "t": 26.5, "v": 0.0975}, {"s": "DG22", "t": 27, "v": 0.0967}, {"s": "DG22", "t": 27.5, "v": 0.0991}, {"s": "DG22", "t": 28, "v": 0.0967},
    {"s": "DG22", "t": 28.1, "v": 0.0970}, {"s": "DG22", "t": 28.22, "v": 0.0750}, {"s": "DG22", "t": 28.4, "v": 0.1400}, {"s": "DG22", "t": 28.58, "v": 0.2060}, {"s": "DG22", "t": 28.78, "v": 0.1600}, {"s": "DG22", "t": 28.98, "v": 0.1100}, {"s": "DG22", "t": 29.2, "v": 0.1180}, {"s": "DG22", "t": 29.5, "v": 0.1340}, {"s": "DG22", "t": 29.8, "v": 0.1500}, {"s": "DG22", "t": 30.05, "v": 0.1560}, {"s": "DG22", "t": 30.3, "v": 0.1535},
    {"s": "DG22", "t": 30.5, "v": 0.1502}, {"s": "DG22", "t": 31, "v": 0.1526}, {"s": "DG22", "t": 31.5, "v": 0.1510}, {"s": "DG22", "t": 32, "v": 0.1502}, {"s": "DG22", "t": 32.5, "v": 0.1518}, {"s": "DG22", "t": 33, "v": 0.1494}, {"s": "DG22", "t": 33.5, "v": 0.1510}, {"s": "DG22", "t": 34, "v": 0.1526}, {"s": "DG22", "t": 34.5, "v": 0.1502}, {"s": "DG22", "t": 35, "v": 0.1518}, {"s": "DG22", "t": 35.5, "v": 0.1510}, {"s": "DG22", "t": 36, "v": 0.1494}, {"s": "DG22", "t": 36.5, "v": 0.1518}, {"s": "DG22", "t": 37, "v": 0.1510}, {"s": "DG22", "t": 37.5, "v": 0.1526}, {"s": "DG22", "t": 38, "v": 0.1502}, {"s": "DG22", "t": 38.5, "v": 0.1502}, {"s": "DG22", "t": 39, "v": 0.1510}, {"s": "DG22", "t": 39.5, "v": 0.1518}, {"s": "DG22", "t": 40, "v": 0.1494}, {"s": "DG22", "t": 40.5, "v": 0.1526}, {"s": "DG22", "t": 41, "v": 0.1510}, {"s": "DG22", "t": 41.15, "v": 0.1510}
  ],
  "etaLab": [{"t": 14.9, "v": 0.31213, "txt": "η₁₂"}, {"t": 20.01, "v": 0.30148, "txt": "η₁₁"}, {"t": 20.75, "v": 0.29316, "txt": "η₂₂"}, {"t": 20.16, "v": 0.28407, "txt": "η₂₁"}],
  "etaArr": [{"id": "a12", "t": 15.99, "v": 0.31252, "t2": 17.75, "v2": 0.31135}, {"id": "a11", "t": 19.43, "v": 0.3040, "t2": 18.41, "v2": 0.30671}, {"id": "a22", "t": 19.65, "v": 0.29374, "t2": 18.33, "v2": 0.29239}, {"id": "a21", "t": 19.43, "v": 0.28561, "t2": 18.26, "v2": 0.28755}],
  "qLab": [{"t": 24.2, "v": 0.2778, "txt": "Q₁₁"}, {"t": 24.47, "v": 0.219, "txt": "Q₁₂"}, {"t": 24.55, "v": 0.1628, "txt": "Q₂₁"}, {"t": 24.55, "v": 0.0622, "txt": "Q₂₂"}],
  "qArr": [{"id": "q11", "t": 23.08, "v": 0.2686, "t2": 21.99, "v2": 0.2556}, {"id": "q12", "t": 23.3, "v": 0.2125, "t2": 22.21, "v2": 0.1955}, {"id": "q21", "t": 23.3, "v": 0.1511, "t2": 22.43, "v2": 0.1393}, {"id": "q22", "t": 23.52, "v": 0.0753, "t2": 22.57, "v2": 0.0923}]
},
"vconcat": [
  {
    "width": 426, "height": 58,
    "layer": [
      {"data": {"name": "arrows"}, "mark": {"type": "rule", "color": "black", "strokeWidth": 2.2}, "encoding": {"x": {"field": "a", "type": "quantitative", "scale": {"domain": [10, 41.15], "nice": false, "zero": false}, "axis": null}, "x2": {"field": "b"}, "y": {"datum": 0.103, "type": "quantitative", "scale": {"domain": [0, 1], "nice": false, "zero": false}, "axis": null}}},
      {"data": {"name": "arrows"}, "mark": {"type": "point", "filled": true, "opacity": 1, "color": "black", "strokeWidth": 0, "size": 324, "shape": "M0,0L1,-0.45L1,0.45Z"}, "encoding": {"x": {"field": "a", "type": "quantitative", "axis": null}, "y": {"datum": 0.103, "type": "quantitative", "axis": null}}},
      {"data": {"name": "arrows"}, "mark": {"type": "point", "filled": true, "opacity": 1, "color": "black", "strokeWidth": 0, "size": 324, "shape": "M0,0L-1,-0.45L-1,0.45Z"}, "encoding": {"x": {"field": "b", "type": "quantitative", "axis": null}, "y": {"datum": 0.103, "type": "quantitative", "axis": null}}},
      {"data": {"name": "hdrA"}, "transform": [{"filter": "datum.row === 'l1'"}], "mark": {"type": "text", "font": "Liberation Serif", "fontSize": 20.5, "fontWeight": "bold", "color": "#222222"}, "encoding": {"x": {"field": "t", "type": "quantitative", "axis": null}, "y": {"datum": 0.73, "type": "quantitative", "axis": null}, "text": {"field": "txt"}}},
      {"data": {"name": "hdrA"}, "transform": [{"filter": "datum.row === 'l2'"}], "mark": {"type": "text", "font": "Liberation Serif", "fontSize": 20.5, "fontWeight": "bold", "color": "#222222"}, "encoding": {"x": {"field": "t", "type": "quantitative", "axis": null}, "y": {"datum": 0.385, "type": "quantitative", "axis": null}, "text": {"field": "txt"}}},
      {"data": {"name": "tags"}, "mark": {"type": "text", "font": "Liberation Serif", "fontSize": 22, "fontWeight": "bold", "color": "#e8161b"}, "encoding": {"x": {"field": "t", "type": "quantitative", "axis": null}, "y": {"datum": 0.362, "type": "quantitative", "axis": null}, "text": {"field": "txt"}}}
    ]
  },
  {
    "width": 426, "height": 215,
    "title": {"text": "(a)", "orient": "bottom", "font": "Liberation Serif", "fontSize": 19, "fontWeight": "normal", "color": "#111111", "offset": 4},
    "encoding": {
      "x": {"field": "t", "type": "quantitative", "scale": {"domain": [10, 41.15], "nice": false, "zero": false},
        "axis": {"values": [10,11,12,13,14,15,16,17,18,19,20,21,22,23,24,25,26,27,28,29,30,31,32,33,34,35,36,37,38,39,40,41], "labelExpr": "datum.value % 5 === 0 ? datum.label : ''", "labelOverlap": false, "grid": true, "gridColor": {"condition": {"test": "datum.value % 5 === 0", "value": "#c2c2c2"}, "value": "#e6e6e6"}, "tickSize": {"condition": {"test": "datum.value % 5 === 0", "value": 6}, "value": 3}, "offset": 5, "labelPadding": 8, "title": "Time (s)", "titlePadding": 3}},
      "y": {"field": "v", "type": "quantitative", "scale": {"domain": [49.153, 50.284], "nice": false, "zero": false},
        "axis": {"values": [49.2,49.3,49.4,49.5,49.6,49.7,49.8,49.9,50,50.1,50.2], "labelExpr": "indexof([49.2,49.5,49.7,50,50.2], datum.value) >= 0 ? format(datum.value, '.1f') : ''", "labelOverlap": false, "grid": true, "gridColor": {"condition": {"test": "indexof([49.2,49.5,49.7,50,50.2], datum.value) >= 0", "value": "#c2c2c2"}, "value": "#e6e6e6"}, "tickSize": {"condition": {"test": "indexof([49.2,49.5,49.7,50,50.2], datum.value) >= 0", "value": 5}, "value": 2}, "offset": 5, "labelPadding": 4, "title": "Frequency (Hz)", "titlePadding": 17}}
    },
    "layer": [
      {"data": {"name": "freq"}, "mark": {"type": "line", "color": "#cc2222", "strokeWidth": 1.3}},
      {"data": {"values": [{"t": 4.88, "v": 49.163}]}, "mark": {"type": "point", "shape": "square", "filled": true, "opacity": 1, "color": "#d40000", "stroke": "#660000", "strokeWidth": 0.8, "size": 100}},
      {"data": {"values": [{"t": 4.96, "v": 50.268}]}, "mark": {"type": "point", "shape": "circle", "filled": true, "opacity": 1, "fill": "#f2f2f2", "stroke": "#c4c4c4", "strokeWidth": 1, "size": 150}}
    ]
  },
  {
    "width": 426, "height": 124,
    "layer": [
      {"data": {"name": "arrows"}, "mark": {"type": "rule", "color": "black", "strokeWidth": 2.2}, "encoding": {"x": {"field": "a", "type": "quantitative", "scale": {"domain": [10, 41.15], "nice": false, "zero": false}, "axis": null}, "x2": {"field": "b"}, "y": {"datum": 0.04, "type": "quantitative", "scale": {"domain": [0, 1], "nice": false, "zero": false}, "axis": null}}},
      {"data": {"name": "arrows"}, "mark": {"type": "point", "filled": true, "opacity": 1, "color": "black", "strokeWidth": 0, "size": 324, "shape": "M0,0L1,-0.45L1,0.45Z"}, "encoding": {"x": {"field": "a", "type": "quantitative", "axis": null}, "y": {"datum": 0.04, "type": "quantitative", "axis": null}}},
      {"data": {"name": "arrows"}, "mark": {"type": "point", "filled": true, "opacity": 1, "color": "black", "strokeWidth": 0, "size": 324, "shape": "M0,0L-1,-0.45L-1,0.45Z"}, "encoding": {"x": {"field": "b", "type": "quantitative", "axis": null}, "y": {"datum": 0.04, "type": "quantitative", "axis": null}}},
      {"data": {"name": "tags"}, "mark": {"type": "text", "font": "Liberation Serif", "fontSize": 22, "fontWeight": "bold", "color": "#e8161b"}, "encoding": {"x": {"field": "t", "type": "quantitative", "axis": null}, "y": {"datum": 0.165, "type": "quantitative", "axis": null}, "text": {"field": "txt"}}}
    ]
  },
  {
    "width": 426, "height": 210,
    "title": {"text": "(b)", "orient": "bottom", "font": "Liberation Serif", "fontSize": 19, "fontWeight": "normal", "color": "#111111", "offset": 4},
    "encoding": {
      "x": {"field": "t", "type": "quantitative", "scale": {"domain": [10, 41.15], "nice": false, "zero": false},
        "axis": {"values": [10,11,12,13,14,15,16,17,18,19,20,21,22,23,24,25,26,27,28,29,30,31,32,33,34,35,36,37,38,39,40,41], "labelExpr": "datum.value % 5 === 0 ? datum.label : ''", "labelOverlap": false, "grid": true, "gridColor": {"condition": {"test": "datum.value % 5 === 0", "value": "#c2c2c2"}, "value": "#e6e6e6"}, "tickSize": {"condition": {"test": "datum.value % 5 === 0", "value": 6}, "value": 3}, "offset": 5, "labelPadding": 6, "title": "Time (s)", "titlePadding": 5}},
      "y": {"field": "v", "type": "quantitative", "scale": {"domain": [0.8766, 1.0299], "nice": false, "zero": false},
        "axis": {"values": [0.88,0.89,0.9,0.91,0.92,0.93,0.94,0.95,0.96,0.97,0.98,0.99,1,1.01,1.02], "labelExpr": "indexof([0.9,0.95,1], datum.value) >= 0 ? format(datum.value, '.2f') : ''", "labelOverlap": false, "grid": true, "gridColor": {"condition": {"test": "indexof([0.9,0.95,1], datum.value) >= 0", "value": "#c2c2c2"}, "value": "#e6e6e6"}, "tickSize": {"condition": {"test": "indexof([0.9,0.95,1], datum.value) >= 0", "value": 5}, "value": 2}, "offset": 5, "labelPadding": 4, "title": "Voltage (p.u.)", "titlePadding": 22}}
    },
    "layer": [
      {"data": {"name": "volt"}, "mark": {"type": "line", "color": "#cc2222", "strokeWidth": 1.3}},
      {"data": {"values": [{"t": 5.87, "v": 0.8781}]}, "mark": {"type": "point", "shape": "square", "filled": true, "opacity": 1, "color": "#d40000", "stroke": "#660000", "strokeWidth": 0.8, "size": 100}},
      {"data": {"values": [{"t": 5.98, "v": 1.0277}]}, "mark": {"type": "point", "shape": "circle", "filled": true, "opacity": 1, "fill": "#f2f2f2", "stroke": "#c4c4c4", "strokeWidth": 1, "size": 150}}
    ]
  },
  {
    "width": 426, "height": 123,
    "layer": [
      {"data": {"name": "arrows"}, "mark": {"type": "rule", "color": "black", "strokeWidth": 2.2}, "encoding": {"x": {"field": "a", "type": "quantitative", "scale": {"domain": [10, 41.15], "nice": false, "zero": false}, "axis": null}, "x2": {"field": "b"}, "y": {"datum": 0.041, "type": "quantitative", "scale": {"domain": [0, 1], "nice": false, "zero": false}, "axis": null}}},
      {"data": {"name": "arrows"}, "mark": {"type": "point", "filled": true, "opacity": 1, "color": "black", "strokeWidth": 0, "size": 324, "shape": "M0,0L1,-0.45L1,0.45Z"}, "encoding": {"x": {"field": "a", "type": "quantitative", "axis": null}, "y": {"datum": 0.041, "type": "quantitative", "axis": null}}},
      {"data": {"name": "arrows"}, "mark": {"type": "point", "filled": true, "opacity": 1, "color": "black", "strokeWidth": 0, "size": 324, "shape": "M0,0L-1,-0.45L-1,0.45Z"}, "encoding": {"x": {"field": "b", "type": "quantitative", "axis": null}, "y": {"datum": 0.041, "type": "quantitative", "axis": null}}},
      {"data": {"name": "tags"}, "mark": {"type": "text", "font": "Liberation Serif", "fontSize": 22, "fontWeight": "bold", "color": "#e8161b"}, "encoding": {"x": {"field": "t", "type": "quantitative", "axis": null}, "y": {"datum": 0.163, "type": "quantitative", "axis": null}, "text": {"field": "txt"}}}
    ]
  },
  {
    "width": 426, "height": 215,
    "title": {"text": "(c)", "orient": "bottom", "font": "Liberation Serif", "fontSize": 19, "fontWeight": "normal", "color": "#111111", "offset": 3},
    "encoding": {
      "x": {"field": "t", "type": "quantitative", "scale": {"domain": [10, 41.15], "nice": false, "zero": false},
        "axis": {"values": [10,11,12,13,14,15,16,17,18,19,20,21,22,23,24,25,26,27,28,29,30,31,32,33,34,35,36,37,38,39,40,41], "labelExpr": "datum.value % 5 === 0 ? datum.label : ''", "labelOverlap": false, "grid": true, "gridColor": {"condition": {"test": "datum.value % 5 === 0", "value": "#c2c2c2"}, "value": "#e6e6e6"}, "tickSize": {"condition": {"test": "datum.value % 5 === 0", "value": 6}, "value": 3}, "offset": 5, "labelPadding": 3, "title": "Time (s)", "titlePadding": 4}},
      "y": {"field": "v", "type": "quantitative", "scale": {"domain": [0.2754, 0.317], "nice": false, "zero": false},
        "axis": {"values": [0.28,0.285,0.29,0.295,0.3,0.305,0.31,0.315], "labelExpr": "indexof([0.28,0.29,0.3,0.31], datum.value) >= 0 ? format(datum.value, '.2f') : ''", "labelOverlap": false, "grid": true, "gridColor": {"condition": {"test": "indexof([0.28,0.29,0.3,0.31], datum.value) >= 0", "value": "#c2c2c2"}, "value": "#e6e6e6"}, "tickSize": {"condition": {"test": "indexof([0.28,0.29,0.3,0.31], datum.value) >= 0", "value": 5}, "value": 2}, "offset": 5, "labelPadding": 4, "title": "GCIV ηₖᵢ ($/kW)", "titlePadding": 25}}
    },
    "layer": [
      {"data": {"name": "gciv"}, "transform": [{"filter": "datum.s === 'DG22'"}], "mark": {"type": "line", "strokeWidth": 1.6, "interpolate": "monotone"}, "encoding": {"color": {"field": "s", "type": "nominal", "scale": {"domain": ["DG11", "DG12", "DG21", "DG22"], "range": ["#e02020", "#ee33ee", "#33dd33", "#2f6fd8"]}, "legend": {"orient": "none", "legendX": 242, "legendY": 154, "columns": 2, "direction": "horizontal", "title": null, "symbolType": "stroke", "symbolSize": 784, "symbolStrokeWidth": 2, "labelFont": "Liberation Serif", "labelFontSize": 21, "labelFontWeight": "bold", "labelColor": "#111111", "labelExpr": "'DG' + replace(replace(substring(datum.label, 2), regexp('1', 'g'), '₁'), regexp('2', 'g'), '₂')", "fillColor": "white", "strokeColor": "#111111", "padding": 4, "columnPadding": 6, "rowPadding": 2, "labelOffset": 5, "clipHeight": 25}}}},
      {"data": {"name": "gciv"}, "transform": [{"filter": "datum.s === 'DG12'"}], "mark": {"type": "line", "strokeWidth": 1.6, "interpolate": "monotone"}, "encoding": {"color": {"field": "s", "type": "nominal"}}},
      {"data": {"name": "gciv"}, "transform": [{"filter": "datum.s === 'DG21'"}], "mark": {"type": "line", "strokeWidth": 1.6, "interpolate": "monotone"}, "encoding": {"color": {"field": "s", "type": "nominal"}}},
      {"data": {"name": "gciv"}, "transform": [{"filter": "datum.s === 'DG11'"}], "mark": {"type": "line", "strokeWidth": 1.6, "interpolate": "monotone"}, "encoding": {"color": {"field": "s", "type": "nominal"}}},
      {"data": {"name": "etaArr"}, "mark": {"type": "rule", "color": "black", "strokeWidth": 1.8}, "encoding": {"x2": {"field": "t2"}, "y2": {"field": "v2"}}},
      {"data": {"name": "etaArr"}, "mark": {"type": "point", "filled": true, "opacity": 1, "color": "black", "strokeWidth": 0, "size": 196, "shape": "M0,0L-1,-0.5L-1,0.5Z"}, "encoding": {"x": {"field": "t2", "type": "quantitative"}, "y": {"field": "v2", "type": "quantitative"}, "angle": {"field": "id", "type": "nominal", "scale": {"domain": ["a12", "a11", "a22", "a21"], "range": [14, 225, 159, 212]}}}},
      {"data": {"name": "etaLab"}, "mark": {"type": "text", "font": "Liberation Serif", "fontSize": 21, "fontWeight": "bold", "fontStyle": "italic", "color": "#111111"}, "encoding": {"text": {"field": "txt"}}},
      {"data": {"values": [{"t": 4.92, "v": 0.28252}]}, "mark": {"type": "point", "shape": "square", "filled": true, "opacity": 1, "color": "#d40000", "stroke": "#555555", "strokeWidth": 0.8, "size": 100}},
      {"data": {"values": [{"t": 4.92, "v": 0.28058}]}, "mark": {"type": "point", "shape": "square", "filled": true, "opacity": 1, "color": "#e020e0", "stroke": "#555555", "strokeWidth": 0.8, "size": 100}},
      {"data": {"values": [{"t": 4.92, "v": 0.27865}]}, "mark": {"type": "point", "shape": "square", "filled": true, "opacity": 1, "color": "#22cc22", "stroke": "#555555", "strokeWidth": 0.8, "size": 100}},
      {"data": {"values": [{"t": 4.92, "v": 0.27671}]}, "mark": {"type": "point", "shape": "square", "filled": true, "opacity": 1, "color": "#2f7fd8", "stroke": "#555555", "strokeWidth": 0.8, "size": 100}},
      {"data": {"values": [{"t": 4.96, "v": 0.3162}]}, "mark": {"type": "point", "shape": "circle", "filled": true, "opacity": 1, "fill": "#f2f2f2", "stroke": "#c4c4c4", "strokeWidth": 1, "size": 150}}
    ]
  },
  {
    "width": 426, "height": 119,
    "layer": [
      {"data": {"name": "arrows"}, "mark": {"type": "rule", "color": "black", "strokeWidth": 2.2}, "encoding": {"x": {"field": "a", "type": "quantitative", "scale": {"domain": [10, 41.15], "nice": false, "zero": false}, "axis": null}, "x2": {"field": "b"}, "y": {"datum": 0.034, "type": "quantitative", "scale": {"domain": [0, 1], "nice": false, "zero": false}, "axis": null}}},
      {"data": {"name": "arrows"}, "mark": {"type": "point", "filled": true, "opacity": 1, "color": "black", "strokeWidth": 0, "size": 324, "shape": "M0,0L1,-0.45L1,0.45Z"}, "encoding": {"x": {"field": "a", "type": "quantitative", "axis": null}, "y": {"datum": 0.034, "type": "quantitative", "axis": null}}},
      {"data": {"name": "arrows"}, "mark": {"type": "point", "filled": true, "opacity": 1, "color": "black", "strokeWidth": 0, "size": 324, "shape": "M0,0L-1,-0.45L-1,0.45Z"}, "encoding": {"x": {"field": "b", "type": "quantitative", "axis": null}, "y": {"datum": 0.034, "type": "quantitative", "axis": null}}},
      {"data": {"name": "tags"}, "mark": {"type": "text", "font": "Liberation Serif", "fontSize": 22, "fontWeight": "bold", "color": "#e8161b"}, "encoding": {"x": {"field": "t", "type": "quantitative", "axis": null}, "y": {"datum": 0.16, "type": "quantitative", "axis": null}, "text": {"field": "txt"}}}
    ]
  },
  {
    "width": 426, "height": 214,
    "title": {"text": "(d)", "orient": "bottom", "font": "Liberation Serif", "fontSize": 19, "fontWeight": "normal", "color": "#111111", "offset": 3},
    "encoding": {
      "x": {"field": "t", "type": "quantitative", "scale": {"domain": [10, 41.15], "nice": false, "zero": false},
        "axis": {"values": [10,11,12,13,14,15,16,17,18,19,20,21,22,23,24,25,26,27,28,29,30,31,32,33,34,35,36,37,38,39,40,41], "labelExpr": "datum.value % 5 === 0 ? datum.label : ''", "labelOverlap": false, "grid": true, "gridColor": {"condition": {"test": "datum.value % 5 === 0", "value": "#c2c2c2"}, "value": "#e6e6e6"}, "tickSize": {"condition": {"test": "datum.value % 5 === 0", "value": 6}, "value": 3}, "offset": 5, "labelPadding": 5, "title": "Time (s)", "titlePadding": 4}},
      "y": {"field": "v", "type": "quantitative", "scale": {"domain": [0.0322, 0.3118], "nice": false, "zero": false},
        "axis": {"values": [0.04,0.05,0.075,0.1,0.125,0.15,0.175,0.2,0.225,0.25,0.275,0.3], "labelExpr": "indexof([0.04,0.1,0.2,0.3], datum.value) >= 0 ? format(datum.value, '.2f') : ''", "labelOverlap": false, "grid": true, "gridColor": {"condition": {"test": "indexof([0.04,0.1,0.2,0.3], datum.value) >= 0", "value": "#c2c2c2"}, "value": "#e6e6e6"}, "tickSize": {"condition": {"test": "indexof([0.04,0.1,0.2,0.3], datum.value) >= 0", "value": 5}, "value": 2}, "offset": 5, "labelPadding": 4, "title": ["Reactive power", "(kVar)"], "titlePadding": 7}}
    },
    "layer": [
      {"data": {"name": "rq"}, "transform": [{"filter": "datum.s === 'DG12'"}], "mark": {"type": "line", "strokeWidth": 1.6, "interpolate": "monotone"}, "encoding": {"color": {"field": "s", "type": "nominal", "scale": {"domain": ["DG11", "DG12", "DG21", "DG22"], "range": ["#e02020", "#ee33ee", "#33dd33", "#2f6fd8"]}, "legend": {"orient": "none", "legendX": 244, "legendY": 159, "columns": 2, "direction": "horizontal", "title": null, "symbolType": "stroke", "symbolSize": 784, "symbolStrokeWidth": 2, "labelFont": "Liberation Serif", "labelFontSize": 21, "labelFontWeight": "bold", "labelColor": "#111111", "labelExpr": "'DG' + replace(replace(substring(datum.label, 2), regexp('1', 'g'), '₁'), regexp('2', 'g'), '₂')", "fillColor": "white", "strokeColor": "#111111", "padding": 4, "columnPadding": 6, "rowPadding": 2, "labelOffset": 5, "clipHeight": 25}}}},
      {"data": {"name": "rq"}, "transform": [{"filter": "datum.s === 'DG21'"}], "mark": {"type": "line", "strokeWidth": 1.6, "interpolate": "monotone"}, "encoding": {"color": {"field": "s", "type": "nominal"}}},
      {"data": {"name": "rq"}, "transform": [{"filter": "datum.s === 'DG11'"}], "mark": {"type": "line", "strokeWidth": 1.6, "interpolate": "monotone"}, "encoding": {"color": {"field": "s", "type": "nominal"}}},
      {"data": {"name": "rq"}, "transform": [{"filter": "datum.s === 'DG22'"}], "mark": {"type": "line", "strokeWidth": 1.6, "interpolate": "monotone"}, "encoding": {"color": {"field": "s", "type": "nominal"}}},
      {"data": {"name": "qArr"}, "mark": {"type": "rule", "color": "black", "strokeWidth": 1.8}, "encoding": {"x2": {"field": "t2"}, "y2": {"field": "v2"}}},
      {"data": {"name": "qArr"}, "mark": {"type": "point", "filled": true, "opacity": 1, "color": "black", "strokeWidth": 0, "size": 196, "shape": "M0,0L-1,-0.5L-1,0.5Z"}, "encoding": {"x": {"field": "t2", "type": "quantitative"}, "y": {"field": "v2", "type": "quantitative"}, "angle": {"field": "id", "type": "nominal", "scale": {"domain": ["q11", "q12", "q21", "q22"], "range": [146, 139, 143, 225]}}}},
      {"data": {"name": "qLab"}, "mark": {"type": "text", "font": "Liberation Serif", "fontSize": 21, "fontWeight": "bold", "fontStyle": "italic", "color": "#111111"}, "encoding": {"text": {"field": "txt"}}},
      {"data": {"values": [{"t": 4.88, "v": 0.0779}]}, "mark": {"type": "point", "shape": "square", "filled": true, "opacity": 1, "color": "#d40000", "stroke": "#555555", "strokeWidth": 0.8, "size": 100}},
      {"data": {"values": [{"t": 4.88, "v": 0.0648}]}, "mark": {"type": "point", "shape": "square", "filled": true, "opacity": 1, "color": "#e020e0", "stroke": "#555555", "strokeWidth": 0.8, "size": 100}},
      {"data": {"values": [{"t": 4.88, "v": 0.0518}]}, "mark": {"type": "point", "shape": "square", "filled": true, "opacity": 1, "color": "#22cc22", "stroke": "#555555", "strokeWidth": 0.8, "size": 100}},
      {"data": {"values": [{"t": 4.88, "v": 0.0387}]}, "mark": {"type": "point", "shape": "square", "filled": true, "opacity": 1, "color": "#2f7fd8", "stroke": "#555555", "strokeWidth": 0.8, "size": 100}},
      {"data": {"values": [{"t": 4.88, "v": 0.3065}]}, "mark": {"type": "point", "shape": "circle", "filled": true, "opacity": 1, "fill": "#f2f2f2", "stroke": "#c4c4c4", "strokeWidth": 1, "size": 150}}
    ]
  }
]
}
